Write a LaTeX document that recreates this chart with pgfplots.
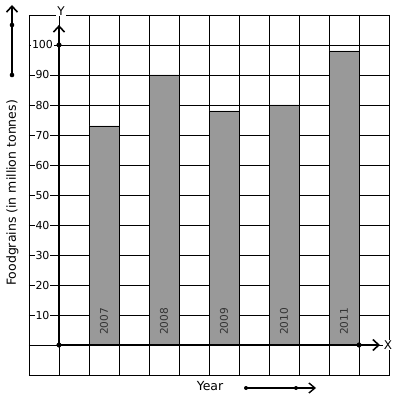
\documentclass[border=0pt]{standalone}
\usepackage{pgfplots}
\pgfplotsset{compat=1.18}
\usepackage{fontspec}
\setmainfont{DejaVu Sans}
\usetikzlibrary{arrows.meta}
\definecolor{barfill}{HTML}{999999}
\begin{document}
\begin{tikzpicture}[x=1pt,y=1pt]
\begin{axis}[
  at={(0,0)}, anchor=origin,
  width=360pt, height=360pt, scale only axis,
  xmin=-1, xmax=11, ymin=-10, ymax=110,
  xtick={-1,0,...,11}, xticklabels={},
  ytick={-10,0,10,20,30,40,50,60,70,80,90,100,110},
  yticklabels={},
  grid=major,
  major grid style={black, line width=0.8pt},
  axis line style={black, line width=0.8pt},
  tick style={draw=none},
  clip=false,
]
\addplot[ybar, bar width=1, bar shift=0, fill=barfill, draw=black, line width=0.8pt]
  coordinates {(1.5,73) (3.5,90) (5.5,78) (7.5,80) (9.5,98)};
\foreach \v in {10,20,...,100}{
  \edef\tmp{\noexpand\node[fill=white, inner sep=0.8pt, anchor=center,
    font=\noexpand\fontsize{11}{12}\noexpand\selectfont] at (axis cs:-0.55,\v) {\v};}
  \tmp
}
\addplot[black, line width=2.2pt, -{Straight Barb[length=6pt,width=11pt,line width=1.6pt]}]
  coordinates {(0,0) (0,106.7)};
\addplot[black, line width=2.2pt, -{Straight Barb[length=6pt,width=11pt,line width=1.6pt]}]
  coordinates {(0,0) (10.7,0)};
\addplot[only marks, mark=*, mark size=2.3pt, black] coordinates {(0,0) (0,100) (10,0)};
\foreach \x/\yr in {1.5/2007,3.5/2008,5.5/2009,7.5/2010,9.5/2011}{
  \edef\tmp{\noexpand\node[rotate=90, anchor=west, inner sep=0pt, text=black!80,
    font=\noexpand\fontsize{10.6}{12}\noexpand\selectfont] at (axis cs:\x,3.3) {\yr};}
  \tmp
}
\end{axis}
% labels (origin of axis data at (0,0))
\node[fill=white, inner sep=1pt, font=\fontsize{12}{14}\selectfont] at (2pt,334pt) {Y};
\node[fill=white, inner sep=1pt, font=\fontsize{12}{14}\selectfont] at (329pt,0pt) {X};
\node[rotate=90, font=\fontsize{12.5}{14}\selectfont] at (-46.5pt,152pt) {Foodgrains (in million tonnes)};
\node[font=\fontsize{12.5}{14}\selectfont] at (151pt,-41pt) {Year};
% decorative arrows
\draw[line width=2pt, -{Straight Barb[length=6pt,width=11pt,line width=1.6pt]}] (-47pt,270pt) -- (-47pt,340pt);
\fill (-47pt,270pt) circle (2.3pt);
\fill (-47pt,320pt) circle (2.3pt);
\draw[line width=1.6pt, -{Straight Barb[length=6pt,width=10pt,line width=1.4pt]}] (187pt,-43pt) -- (257pt,-43pt);
\fill (187pt,-43pt) circle (2pt);
\fill (237pt,-43pt) circle (2pt);
\pgfresetboundingbox
\useasboundingbox (-59pt,-56pt) rectangle (338pt,345pt);
\end{tikzpicture}
\end{document}
